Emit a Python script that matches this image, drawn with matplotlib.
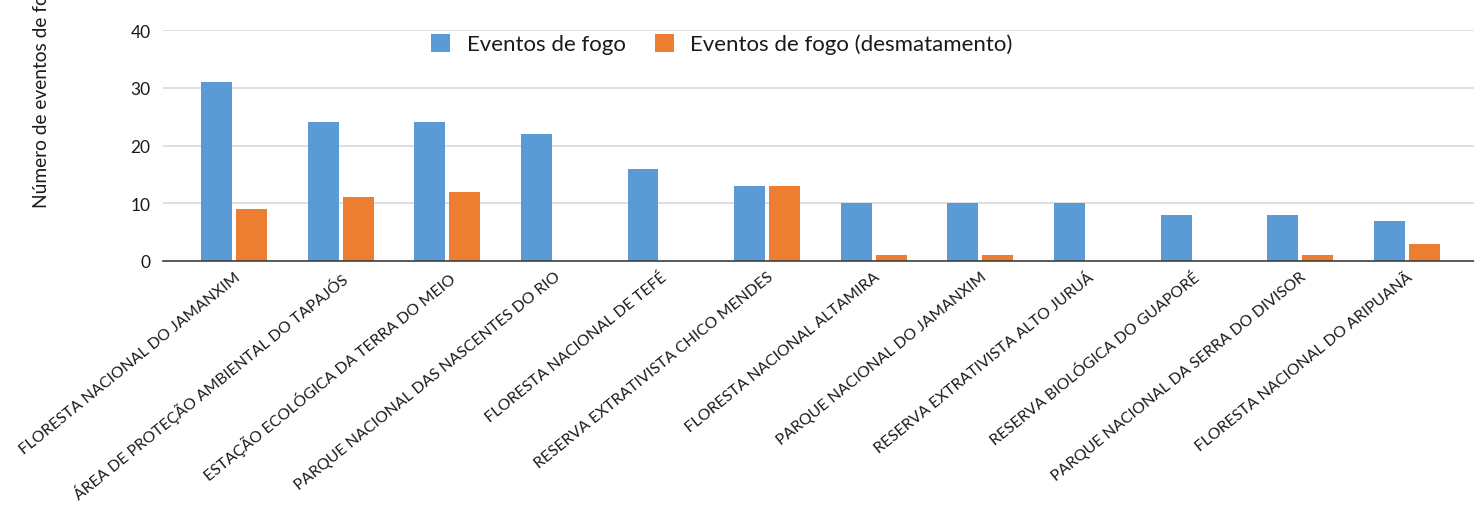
import numpy as np
import matplotlib
matplotlib.use('Agg')
import matplotlib.pyplot as plt
import matplotlib.transforms as mtransforms

# data
categorias = ['FLORESTA NACIONAL DO JAMANXIM',
              'ÁREA DE PROTEÇÃO AMBIENTAL DO TAPAJÓS',
              'ESTAÇÃO ECOLÓGICA DA TERRA DO MEIO',
              'PARQUE NACIONAL DAS NASCENTES DO RIO',
              'FLORESTA NACIONAL DE TEFÉ',
              'RESERVA EXTRATIVISTA CHICO MENDES',
              'FLORESTA NACIONAL ALTAMIRA',
              'PARQUE NACIONAL DO JAMANXIM',
              'RESERVA EXTRATIVISTA ALTO JURUÁ',
              'RESERVA BIOLÓGICA DO GUAPORÉ',
              'PARQUE NACIONAL DA SERRA DO DIVISOR',
              'FLORESTA NACIONAL DO ARIPUANÃ']
fogo = [31, 24, 24, 22, 16, 13, 10, 10, 10, 8, 8, 7]
fogo_desmat = [9, 11, 12, 0, 0, 13, 1, 1, 0, 0, 1, 3]
series_labels = ['Eventos de fogo', 'Eventos de fogo (desmatamento)']

plt.rcParams['font.family'] = ['Lato', 'DejaVu Sans']

fig = plt.figure(figsize=(14.74, 5.06), dpi=100)
ax = fig.add_axes([163/1474, 1-262/506, 1-163/1474, (262-31)/506])

x = np.arange(len(categorias))
w = 0.29
ax.bar(x - 0.164, fogo, w, color='#5B9BD5', label=series_labels[0], zorder=3)
ax.bar(x + 0.164, fogo_desmat, w, color='#ED7D31', label=series_labels[1], zorder=3)

ax.set_ylim(0, 40)
ax.set_yticks([0, 10, 20, 30, 40])
ax.set_xlim(-0.666, 11.63)
ax.set_xticks(x)
ax.set_xticklabels(categorias, rotation=39, ha='right', rotation_mode='anchor',
                   fontsize=11.3, color='#1a1a1a')
# shift labels a little to the right, as in the reference
shift = mtransforms.ScaledTranslation(8/100, 0, fig.dpi_scale_trans)
for lab in ax.get_xticklabels():
    lab.set_transform(lab.get_transform() + shift)
ax.tick_params(axis='both', length=0)
ax.tick_params(axis='x', pad=6)
ax.tick_params(axis='y', labelsize=12.5, labelcolor='#1a1a1a', pad=9)
ax.grid(axis='y', color='#d9d9d9', linewidth=1.2, zorder=0)
for s in ['top', 'right', 'left']:
    ax.spines[s].set_visible(False)
ax.spines['bottom'].set_color('#404040')
ax.spines['bottom'].set_linewidth(1.2)
ax.spines['bottom'].set_zorder(4)

ax.legend(loc='center', bbox_to_anchor=((722-163)/1311, 0.939), ncol=2, frameon=False,
          fontsize=16, handlelength=0.85, handleheight=0.85, columnspacing=1.3,
          handletextpad=0.75, labelcolor='#1a1a1a')

# y label, cut off at the top like in the reference
fig.text(42/1474, 1-208/506, 'Número de eventos de fogo', rotation=90,
         ha='center', va='bottom', fontsize=13.8, color='#1a1a1a')

fig.savefig('out.png', dpi=100)
